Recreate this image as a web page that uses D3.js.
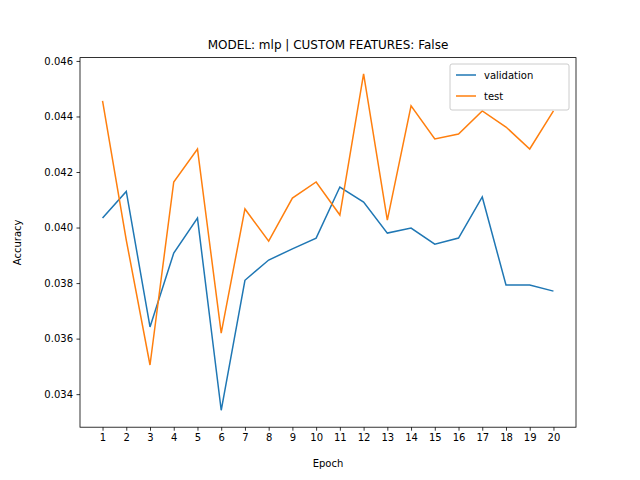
<!DOCTYPE html>
<html>
<head>
<meta charset="utf-8">
<script src="https://d3js.org/d3.v7.min.js"></script>
<style>
  body { margin: 0; background: white; font-family: "DejaVu Sans", sans-serif; }
  text { font-family: "DejaVu Sans", sans-serif; }
</style>
</head>
<body>
<svg id="chart" width="640" height="480"></svg>
<script>
// values
let epochs = d3.range(1, 21)
let validation = [0.04034, 0.04130, 0.03642, 0.03908, 0.04034, 0.03342, 0.03810, 0.03883, 0.03923, 0.03962,
                  0.04146, 0.04092, 0.03980, 0.03998, 0.03940, 0.03962, 0.04110, 0.03793, 0.03793, 0.03771]
let test = [0.04456, 0.03955, 0.03505, 0.04164, 0.04283, 0.03620, 0.04067, 0.03951, 0.04106, 0.04164,
            0.04045, 0.04553, 0.04027, 0.04438, 0.04319, 0.04337, 0.04420, 0.04362, 0.04283, 0.04420]
let yTicks = [0.034, 0.036, 0.038, 0.040, 0.042, 0.044, 0.046]
let seriesNames = ["validation", "test"]
let colors = ["#1f77b4", "#ff7f0e"]

let svg = d3.select("#chart")
let mLeft = 80, mRight = 576, mTop = 57.6, mBottom = 427.2

let x = d3.scaleLinear().domain([0.05, 20.95]).range([mLeft, mRight])
let y = d3.scaleLinear().domain([0.03281, 0.04612]).range([mBottom, mTop])

let line = d3.line().x((d, i) => x(epochs[i])).y(d => y(d))
;[validation, test].forEach((s, k) => {
    svg.append("path").datum(s)
        .attr("d", line)
        .attr("fill", "none")
        .attr("stroke", colors[k])
        .attr("stroke-width", 1.5)
})

let xAxis = svg.append("g").attr("transform", `translate(0,${mBottom})`)
    .call(d3.axisBottom(x).tickValues(epochs).tickFormat(d3.format("d")).tickSize(3.5).tickPadding(3.5))
let yAxis = svg.append("g").attr("transform", `translate(${mLeft},0)`)
    .call(d3.axisLeft(y).tickValues(yTicks).tickFormat(d3.format(".3f")).tickSize(3.5).tickPadding(3.5))
;[xAxis, yAxis].forEach(a => {
    a.select(".domain").remove()
    a.selectAll("text").attr("font-size", 10).attr("fill", "black")
    a.selectAll("line").attr("stroke", "black").attr("stroke-width", 0.8)
})

svg.append("rect").attr("x", mLeft).attr("y", mTop)
    .attr("width", mRight - mLeft).attr("height", mBottom - mTop)
    .attr("fill", "none").attr("stroke", "black").attr("stroke-width", 0.8)

svg.append("text").attr("x", (mLeft + mRight) / 2).attr("y", 49)
    .attr("text-anchor", "middle").attr("font-size", 12)
    .text("MODEL: mlp | CUSTOM FEATURES: False")
svg.append("text").attr("x", (mLeft + mRight) / 2).attr("y", 467)
    .attr("text-anchor", "middle").attr("font-size", 10).text("Epoch")
svg.append("text").attr("transform", `translate(21,${(mTop + mBottom) / 2}) rotate(-90)`)
    .attr("text-anchor", "middle").attr("font-size", 10).text("Accuracy")

// legend
let lg = svg.append("g").attr("transform", "translate(450,64)")
lg.append("rect").attr("width", 119).attr("height", 46).attr("rx", 2)
    .attr("fill", "white").attr("fill-opacity", 0.8).attr("stroke", "#cccccc")
seriesNames.forEach((n, k) => {
    let yy = 11 + k * 21
    lg.append("line").attr("x1", 6).attr("x2", 26).attr("y1", yy).attr("y2", yy)
        .attr("stroke", colors[k]).attr("stroke-width", 1.5)
    lg.append("text").attr("x", 34).attr("y", yy + 4).attr("font-size", 10).text(n)
})
</script>
</body>
</html>
